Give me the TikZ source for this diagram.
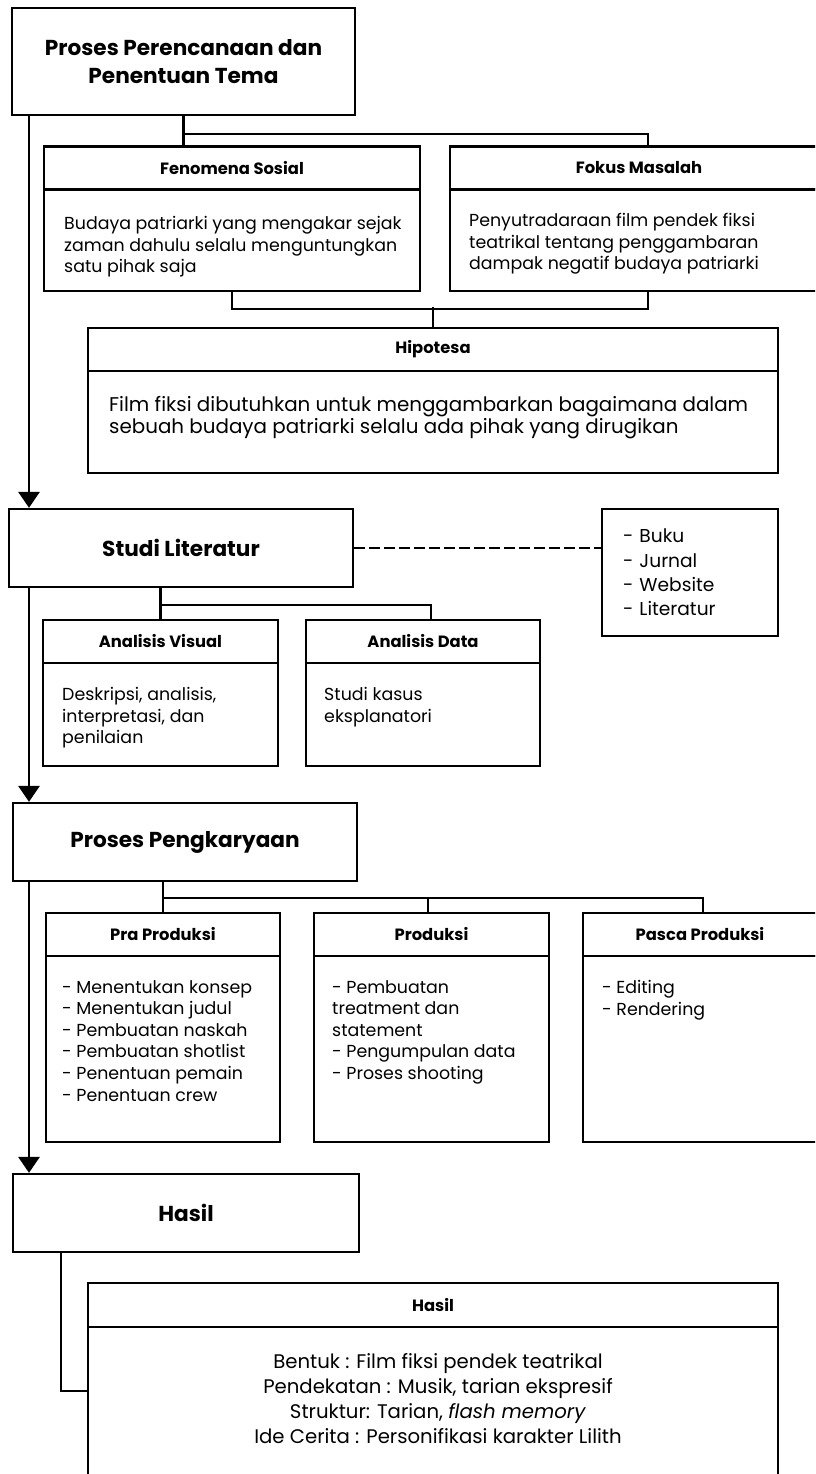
\documentclass[tikz,border=0pt]{standalone}
\usepackage{fontspec}
\setmainfont{Poppins}
\usetikzlibrary{positioning,arrows.meta,calc}

\begin{document}
\begin{tikzpicture}[
  box/.style={rectangle, draw, line width=1.3pt, align=center, inner sep=2pt},
  stagebox/.style={box, minimum width=6.88cm, minimum height=1.56cm, font=\bfseries\fontsize{12.3}{15.9}\selectfont},
  headbox/.style={box, minimum height=0.86cm, font=\bfseries\fontsize{9.3}{11}\selectfont},
  bodybox/.style={box, minimum height=2.04cm},
  txt/.style={anchor=north west, inner sep=0pt, align=left, font=\fontsize{9.9}{12.3}\selectfont},
  link/.style={line width=1.4pt},
  arrow/.style={-{Triangle[length=0.32cm, width=0.42cm]}, line width=1.7pt},
]

\clip (0,0) rectangle (16.3,-29.48);

% === Perencanaan ===
\node[stagebox, minimum width=6.86cm, minimum height=2.14cm] (plan) at (3.67,-1.23) {Proses Perencanaan dan\\Penentuan Tema};

\node[headbox, minimum width=7.52cm] (fenh) at (4.64,-3.36) {Fenomena Sosial};
\node[bodybox, minimum width=7.52cm] (fenb) at (4.64,-4.80) {};
\node[txt] (fent) at ($(fenb.north west)+(0.42,-0.56)$) {Budaya patriarki yang mengakar sejak\\zaman dahulu selalu menguntungkan\\satu pihak saja};

\node[headbox, minimum width=7.56cm] (fokh) at (12.78,-3.36) {Fokus Masalah};
\node[bodybox, minimum width=7.56cm] (fokb) at (12.78,-4.80) {};
\node[txt] (fokt) at ($(fokb.north west)+(0.40,-0.50)$) {Penyutradaraan film pendek fiksi\\teatrikal tentang penggambaran\\dampak negatif budaya patriarki};

\draw[link] (plan.south) -- (plan.south |- fenh.north);
\draw[link] ($(plan.south)+(0,-0.36)$) -| ([xshift=0.18cm]fokh.north);

% === Hipotesa ===
\node[headbox, minimum width=13.8cm] (hiph) at (8.66,-6.99) {Hipotesa};
\node[bodybox, minimum width=13.8cm] (hipb) at (8.66,-8.44) {};
\node[txt, font=\fontsize{11.3}{12.6}\selectfont] (hipt) at ($(hipb.north west)+(0.44,-0.52)$) {Film fiksi dibutuhkan untuk menggambarkan bagaimana dalam\\sebuah budaya patriarki selalu ada pihak yang dirugikan};

\draw[link] (fenb.south) -- ++(0,-0.34) -| ([xshift=0.18cm]fokb.south);
\draw[link] (hiph.north) -- ++(0,0.40);

% === Studi Literatur ===
\node[stagebox] (studi) at (3.62,-10.96) {Studi Literatur};
\node[box, minimum width=3.52cm, minimum height=2.54cm, text width=2.68cm, inner xsep=0.42cm, inner ysep=0.2cm, align=left, font=\fontsize{10.6}{13.9}\selectfont] (sumber) at (13.80,-11.45) {- Buku\\- Jurnal\\- Website\\- Literatur};

\draw[link, line width=1.3pt, dash pattern=on 0.22cm off 0.08cm] (studi.east) -- (studi.east -| sumber.west);

\node[headbox, minimum width=4.70cm] (avh) at (3.21,-12.83) {Analisis Visual};
\node[bodybox, minimum width=4.70cm, minimum height=2.06cm] (avb) at (3.21,-14.29) {};
\node[txt] (avt) at ($(avb.north west)+(0.40,-0.50)$) {Deskripsi, analisis,\\interpretasi, dan\\penilaian};

\node[headbox, minimum width=4.68cm] (adh) at (8.46,-12.83) {Analisis Data};
\node[bodybox, minimum width=4.68cm, minimum height=2.06cm] (adb) at (8.46,-14.29) {};
\node[txt] (adt) at ($(adb.north west)+(0.38,-0.50)$) {Studi kasus\\eksplanatori};

\draw[link] (avh.north) -- (avh.north |- studi.south);
\draw[link] ($(avh.north)+(0,0.28)$) -| ([xshift=0.16cm]adh.north);

% === Proses Pengkaryaan ===
\node[stagebox] (karya) at (3.70,-16.84) {Proses Pengkaryaan};

\node[headbox, minimum width=4.68cm] (prah) at (3.26,-18.69) {Pra Produksi};
\node[bodybox, minimum width=4.68cm, minimum height=3.72cm] (prab) at (3.26,-20.98) {};
\node[txt] (prat) at ($(prab.north west)+(0.34,-0.50)$) {- Menentukan konsep\\- Menentukan judul\\- Pembuatan naskah\\- Pembuatan shotlist\\- Penentuan pemain\\- Penentuan crew};

\node[headbox, minimum width=4.70cm] (prodh) at (8.63,-18.69) {Produksi};
\node[bodybox, minimum width=4.70cm, minimum height=3.72cm] (prodb) at (8.63,-20.98) {};
\node[txt] (prodt) at ($(prodb.north west)+(0.38,-0.50)$) {- Pembuatan\\treatment dan\\statement\\- Pengumpulan data\\- Proses shooting};

\node[headbox, minimum width=4.68cm] (pash) at (14.00,-18.69) {Pasca Produksi};
\node[bodybox, minimum width=4.68cm, minimum height=3.72cm] (pasb) at (14.00,-20.98) {};
\node[txt] (past) at ($(pasb.north west)+(0.40,-0.50)$) {- Editing\\- Rendering};

\draw[link] (prah.north) -- (prah.north |- karya.south);
\draw[link] ($(prah.north)+(0,0.28)$) -| ([xshift=0.06cm]pash.north);
\draw[link] ([xshift=-0.07cm]prodh.north) -- ++(0,0.28);

% === Hasil ===
\node[stagebox, minimum width=6.92cm] (hasil) at (3.72,-24.26) {Hasil};

\node[headbox, minimum width=13.8cm, minimum height=0.88cm] (hsh) at (8.66,-26.10) {Hasil};
\node[bodybox, minimum width=13.8cm, minimum height=3.26cm] (hsb) at (8.66,-28.17) {};
\node[txt, anchor=north, align=center, font=\fontsize{11.2}{14.2}\selectfont] (hst) at ($(hsb.north)+(0.1,-0.54)$) {Bentuk : Film fiksi pendek teatrikal\\Pendekatan : Musik, tarian ekspresif\\Struktur: Tarian, \textit{flash memory}\\Ide Cerita : Personifikasi karakter Lilith};

\draw[link] ([xshift=0.98cm]hasil.south west) |- ($(hsb.north west)+(0,-1.30)$);

% === Alur utama ===
\coordinate (spine) at (0.58,0);
\draw[arrow] (plan.south -| spine) -- (studi.north -| spine);
\draw[arrow] (studi.south -| spine) -- (karya.north -| spine);
\draw[arrow] (karya.south -| spine) -- (hasil.north -| spine);

\end{tikzpicture}
\end{document}
